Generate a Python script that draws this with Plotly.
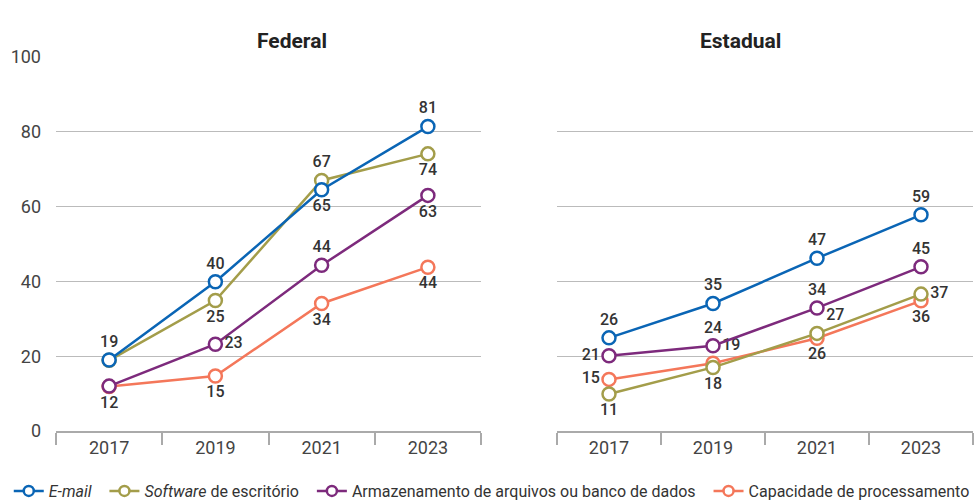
import plotly.graph_objects as go

years = ["2017", "2019", "2021", "2023"]
series_names = ["<i>E-mail</i>", "<i>Software</i> de escritório",
                "Armazenamento de arquivos ou banco de dados", "Capacidade de processamento"]
colors = ["#0A65B5", "#A39D4A", "#7D2A7C", "#F4775A"]

# Federal: plotted values and label texts
fed_email = [19, 39.9, 64.5, 81.4]
fed_soft = [18.9, 34.9, 67.0, 74.1]
fed_arm = [12.0, 23.2, 44.3, 63.0]
fed_cap = [11.9, 14.7, 34.1, 43.8]
fed_email_lbl = ["19", "40", "65", "81"]
fed_soft_lbl = ["", "25", "67", "74"]
fed_arm_lbl = ["", "23", "44", "63"]
fed_cap_lbl = ["12", "15", "34", "44"]

# Estadual
est_email = [24.9, 34.1, 46.2, 57.8]
est_soft = [9.9, 17.0, 26.1, 36.6]
est_arm = [20.1, 22.8, 32.9, 43.9]
est_cap = [13.8, 18.1, 24.8, 34.8]
est_email_lbl = ["26", "35", "47", "59"]
est_soft_lbl = ["11", "18", "27", "37"]
est_arm_lbl = ["21", "24", "34", "45"]
est_cap_lbl = ["15", "19", "26", "36"]

fed_pos = [
    ["top center", "top center", "bottom center", "top center"],
    ["top center", "bottom center", "top center", "bottom center"],
    ["top center", "middle right", "top center", "bottom center"],
    ["bottom center", "bottom center", "bottom center", "bottom center"],
]
est_pos = [
    ["top center", "top center", "top center", "top center"],
    ["bottom center", "bottom center", "top right", "middle right"],
    ["middle left", "top center", "top center", "top center"],
    ["middle left", "top right", "bottom center", "bottom center"],
]

FONT = "Roboto, DejaVu Sans, sans-serif"

fig = go.Figure()
fed_vals = [fed_email, fed_soft, fed_arm, fed_cap]
fed_lbls = [fed_email_lbl, fed_soft_lbl, fed_arm_lbl, fed_cap_lbl]
est_vals = [est_email, est_soft, est_arm, est_cap]
est_lbls = [est_email_lbl, est_soft_lbl, est_arm_lbl, est_cap_lbl]

def add(vals, lbls, pos, xa, ya, i):
    fig.add_trace(go.Scatter(
        x=years, y=vals, text=lbls, textposition=pos,
        mode="lines+markers+text", name=series_names[i], showlegend=False,
        xaxis=xa, yaxis=ya,
        line=dict(color=colors[i], width=2.5),
        marker=dict(symbol="circle", size=13, color="white",
                    line=dict(color=colors[i], width=2.5)),
        textfont=dict(family=FONT, size=16, color="#333333", weight=500),
        cliponaxis=False,
    ))

order = [3, 2, 1, 0]
for i in order:
    add(fed_vals[i], fed_lbls[i], fed_pos[i], "x", "y", i)
for i in order:
    add(est_vals[i], est_lbls[i], est_pos[i], "x2", "y2", i)
pad = "\u00a0\u00a0"
for i in range(4):
    fig.add_trace(go.Scatter(
        x=[None], y=[None], mode="lines+markers",
        name=series_names[i] + (pad if i < 3 else ""),
        line=dict(color=colors[i], width=2.5),
        marker=dict(symbol="circle", size=10, color="white",
                    line=dict(color=colors[i], width=2.5)),
        xaxis="x", yaxis="y", showlegend=True))

W, H = 974, 500
ydom = [(H - 431) / H, (H - 57) / H]
tickfont = dict(family=FONT, size=18, color="#444444")
xaxis_common = dict(type="category", showline=True, linecolor="#AAAAAA", linewidth=1.5,
                    ticks="outside", tickson="boundaries", ticklen=12, tickcolor="#AAAAAA",
                    tickwidth=1.5, showgrid=False, zeroline=False,
                    tickfont=tickfont, range=[-0.5, 3.5])
yaxis_common = dict(range=[0, 100], tickvals=[0, 20, 40, 60, 80, 100], showgrid=True,
                    gridcolor="#BBBBBB", gridwidth=1.3, zeroline=False, showline=False,
                    tickfont=tickfont, domain=ydom)

fig.update_layout(
    width=W, height=H,
    margin=dict(l=0, r=0, t=0, b=0, autoexpand=False),
    paper_bgcolor="white", plot_bgcolor="white",
    font=dict(family=FONT, color="#333333"),
    xaxis=dict(domain=[56 / W, 481 / W], anchor="y", **xaxis_common),
    yaxis=dict(anchor="x", showticklabels=True, ticklabelstandoff=14, **yaxis_common),
    xaxis2=dict(domain=[557 / W, 973 / W], anchor="y2", **xaxis_common),
    yaxis2=dict(anchor="x2", showticklabels=False, **yaxis_common),
    legend=dict(orientation="h", x=0.009, xanchor="left", y=-0.016, yanchor="bottom",
                font=dict(family=FONT, size=16, color="#333333"),
                itemwidth=30, tracegroupgap=0, bgcolor="rgba(0,0,0,0)"),
    annotations=[
        dict(text="<b>Federal</b>", x=255 / W, y=1 - 27 / H, xref="paper", yref="paper",
             showarrow=False, font=dict(family=FONT, size=21, color="#222222")),
        dict(text="<b>Estadual</b>", x=783 / W, y=1 - 27 / H, xref="paper", yref="paper",
             showarrow=False, font=dict(family=FONT, size=21, color="#222222")),
    ],
)

fig.write_html("out.html", post_script="document.body.style.margin='0';",
               config={"displayModeBar": False})
